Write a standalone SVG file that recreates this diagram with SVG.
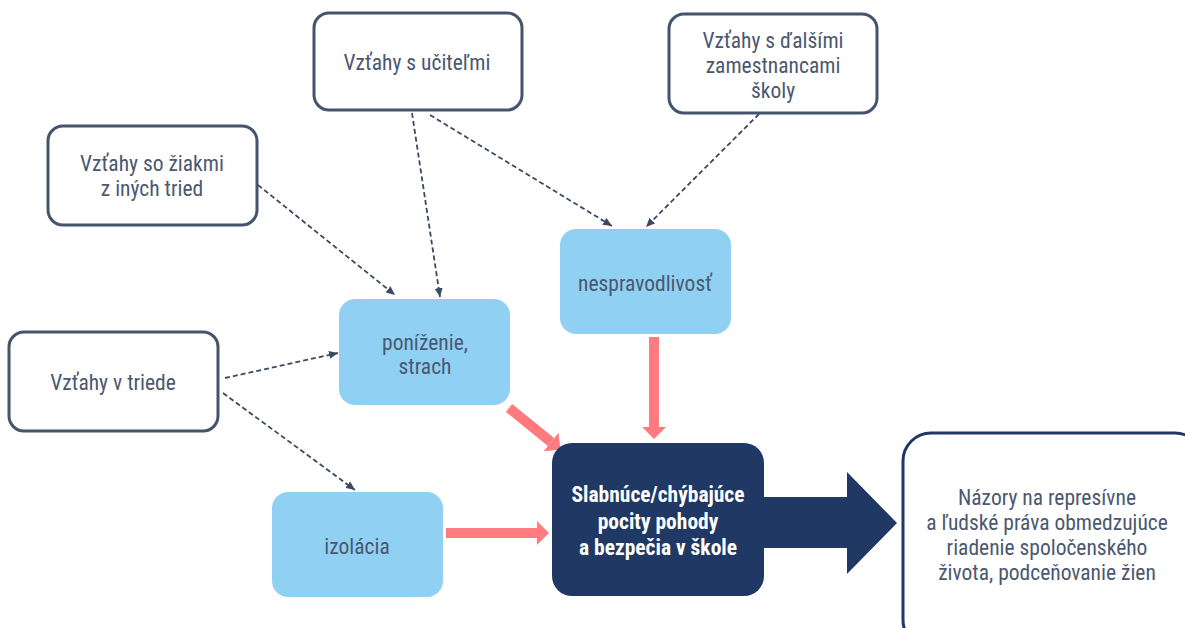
<svg xmlns="http://www.w3.org/2000/svg" width="1185" height="628" viewBox="0 0 1185 628">
<defs>
<style>
.src{fill:#ffffff;stroke:#44546c;stroke-width:3}
.mid{fill:#8fd0f3}
.t{font-family:"Roboto Condensed","Liberation Sans Narrow",Roboto,sans-serif;font-size:21.5px;fill:#4a5870;text-anchor:middle;dominant-baseline:central}
.tb{font-family:"Roboto Condensed","Liberation Sans Narrow",Roboto,sans-serif;font-size:21.5px;font-weight:bold;fill:#ffffff;text-anchor:middle;dominant-baseline:central}
.dash{stroke:#3b4a63;stroke-width:1.8;stroke-dasharray:5 3;fill:none;marker-end:url(#ah)}
.red{stroke:#ff7b7f;stroke-width:10;fill:none;marker-end:url(#rh)}
</style>
<marker id="ah" markerUnits="userSpaceOnUse" markerWidth="10" markerHeight="8" refX="9" refY="4" orient="auto">
<path d="M0,0 L9,4 L0,8 z" fill="#3b4a63"/>
</marker>
<marker id="rh" markerUnits="userSpaceOnUse" markerWidth="12" markerHeight="24" refX="0" refY="12" orient="auto">
<path d="M0,0 L12,12 L0,24 z" fill="#ff7b7f"/>
</marker>
</defs>
<rect width="1185" height="628" fill="#ffffff"/>

<g id="connectors">
<line class="dash" x1="412" y1="113" x2="440" y2="297"/>
<line class="dash" x1="430" y1="115" x2="612" y2="226"/>
<line class="dash" x1="759" y1="114" x2="646" y2="227"/>
<line class="dash" x1="258" y1="185" x2="395" y2="295"/>
<line class="dash" x1="225" y1="378" x2="338" y2="353"/>
<line class="dash" x1="223" y1="393" x2="355" y2="490"/>
<line class="red" x1="654" y1="337" x2="654" y2="427"/>
<line class="red" x1="446" y1="533" x2="537" y2="533"/>
<line class="red" x1="509" y1="408" x2="551" y2="442"/>
<polygon points="764,497 847,497 847,472 897,523 847,574 847,548 764,548" fill="#1f3864"/>
</g>

<g id="n-ucitelia">
<rect class="src" x="314" y="13" width="208" height="97" rx="15"/>
<text class="t" x="417" y="62">Vzťahy s učiteľmi</text>
</g>
<g id="n-zamestnanci">
<rect class="src" x="669" y="14" width="208" height="99" rx="15"/>
<text class="t" x="773" y="40">Vzťahy s ďalšími</text>
<text class="t" x="773" y="65">zamestnancami</text>
<text class="t" x="773" y="90">školy</text>
</g>
<g id="n-ziaci">
<rect class="src" x="48" y="126" width="209" height="99" rx="15"/>
<text class="t" x="152" y="163">Vzťahy so žiakmi</text>
<text class="t" x="152" y="188">z iných tried</text>
</g>
<g id="n-trieda">
<rect class="src" x="9" y="332" width="209" height="99" rx="15"/>
<text class="t" x="113" y="382">Vzťahy v triede</text>
</g>
<g id="n-ponizenie">
<rect class="mid" x="339" y="299" width="171" height="106" rx="16"/>
<text class="t" x="425" y="342">poníženie,</text>
<text class="t" x="425" y="366">strach</text>
</g>
<g id="n-nespravodlivost">
<rect class="mid" x="560" y="229" width="171" height="105" rx="16"/>
<text class="t" x="645" y="283">nespravodlivosť</text>
</g>
<g id="n-izolacia">
<rect class="mid" x="272" y="492" width="171" height="105" rx="16"/>
<text class="t" x="357" y="546">izolácia</text>
</g>
<g id="n-pocity">
<rect x="552" y="443" width="212" height="153" rx="20" fill="#1f3864"/>
<text class="tb" x="658" y="494">Slabnúce/chýbajúce</text>
<text class="tb" x="658" y="521">pocity pohody</text>
<text class="tb" x="658" y="547">a bezpečia v škole</text>
</g>
<g id="n-nazory">
<rect x="903" y="433" width="300" height="215" rx="28" fill="#ffffff" stroke="#1f3864" stroke-width="3"/>
<text class="t" x="1047" y="497">Názory na represívne</text>
<text class="t" x="1047" y="522">a ľudské práva obmedzujúce</text>
<text class="t" x="1047" y="547">riadenie spoločenského</text>
<text class="t" x="1047" y="572">života, podceňovanie žien</text>
</g>
</svg>
